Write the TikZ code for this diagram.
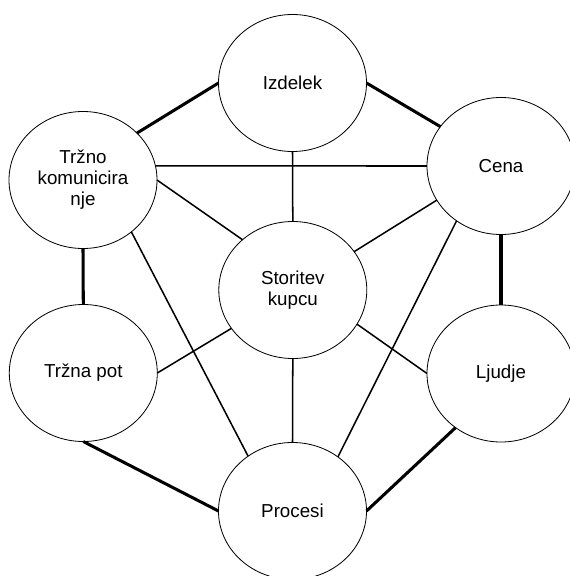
\documentclass[tikz,border=0pt]{standalone}
\usepackage{fontspec}
\setmainfont{Liberation Sans}
\usetikzlibrary{shapes.geometric}
\begin{document}
\begin{tikzpicture}[x=0.03cm,y=-0.03cm,
  bubble/.style={draw,ellipse,line width=0.7pt,inner sep=0pt,outer sep=0pt,
    minimum width=4.44cm,minimum height=4.11cm,align=center,
    font=\fontsize{16pt}{18pt}\selectfont},
  thick link/.style={line width=2.6pt},
  thin link/.style={line width=1.3pt}]
\useasboundingbox (0,0) rectangle (570,576);
\node[bubble] (izd) at (292.5,83) {Izdelek};
\node[bubble] (cena) at (501,166) {Cena};
\node[bubble] (trk) at (83,180) {Tržno\\komunicira\\nje};
\node[bubble] (stor) at (292.8,290) {Storitev\\kupcu};
\node[bubble] (pot) at (83.3,373) {Tržna pot};
\node[bubble] (ljud) at (501,373.5) {Ljudje};
\node[bubble] (proc) at (292.5,511) {Procesi};
% thick outer links
\draw[thick link] (trk.41.4) -- (izd.180);
\draw[thick link] (izd.0) -- (cena.147.9);
\draw[thick link] (trk.south) -- (pot.north);
\draw[thick link] (cena.south) -- (ljud.north);
\draw[thick link] (pot.south) -- (proc.180);
\draw[thick link] (ljud.230.8) -- (proc.0);
% thin inner links
\draw[thin link] (trk.11.8) -- (cena.180);
\draw[thin link] (izd.south) -- (stor.north);
\draw[thin link] (trk.0) -- (stor.135.8);
\draw[thin link] (cena.208.6) -- (stor.32.3);
\draw[thin link] (trk.313.3) -- (proc.129.8);
\draw[thin link] (cena.231.5) -- (proc.50.3);
\draw[thin link] (stor.212) -- (pot.0);
\draw[thin link] (stor.332.1) -- (ljud.180);
\draw[thin link] (stor.south) -- (proc.north);
\end{tikzpicture}
\end{document}
